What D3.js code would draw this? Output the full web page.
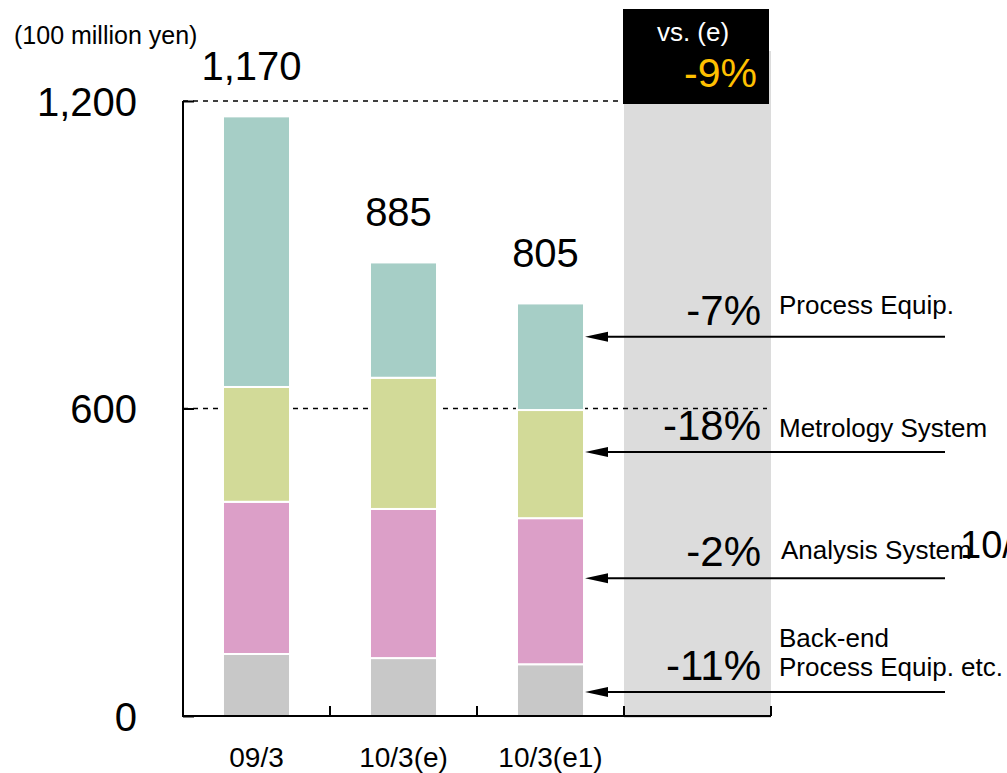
<!DOCTYPE html>
<html>
<head>
<meta charset="utf-8">
<script src="https://cdn.jsdelivr.net/npm/d3@7"></script>
<style>
  body { margin: 0; background: #fff; }
  svg { font-family: "Liberation Sans", Arial, sans-serif; }
</style>
</head>
<body>
<svg width="1007" height="773"></svg>
<script>
var categories = ["09/3", "10/3(e)", "10/3(e1)"];
var series = ["Back-end Process Equip. etc.", "Analysis System", "Metrology System", "Process Equip."];
var backEnd = [121, 113, 101];
var analysis = [297, 291, 285];
var metrology = [224, 256, 211];
var process = [528, 225, 208];
var totals = [1170, 885, 805];
var yTicks = [0, 600, 1200];
var changes = ["-11%", "-2%", "-18%", "-7%"];
var arrowAt = [47, 269, 515, 740];
var totalChange = "-9%";

var colors = ["#c8c8c8", "#dc9fc8", "#d2da98", "#a6cec6"];

var svg = d3.select("svg");

var x = d3.scaleBand().domain(categories.concat(["vs"])).range([183, 771]).padding(0),
    y = d3.scaleLinear().domain([0, 1200]).range([716, 101]);

var barW = x.bandwidth() * 0.456;

var rows = categories.map(function(c, i) {
  return { cat: c, back: backEnd[i], ana: analysis[i], met: metrology[i], pro: process[i] };
});
var stack = d3.stack().keys(["back", "ana", "met", "pro"])(rows);

// gray comparison column and black header
svg.append("rect")
   .attr("x", x("vs")).attr("y", 51)
   .attr("width", x.bandwidth()).attr("height", 667)
   .style("fill", "#dcdcdc");

svg.append("rect")
   .attr("x", x("vs") - 1).attr("y", 9)
   .attr("width", x.bandwidth() - 1).attr("height", 95)
   .style("fill", "#000");

svg.append("text")
   .attr("x", x("vs") + 69).attr("y", 41)
   .attr("text-anchor", "middle")
   .attr("font-size", "26px")
   .style("fill", "#fff")
   .text("vs. (e)");

svg.append("text")
   .attr("x", x("vs") + 133).attr("y", 87)
   .attr("text-anchor", "end")
   .attr("font-size", "41px")
   .style("fill", "#ffc000")
   .text(totalChange);

// dashed gridlines
svg.selectAll(".grid")
   .data(yTicks.filter(function(d) { return d > 0; }))
   .enter().append("line")
   .attr("x1", 183).attr("x2", 767)
   .attr("y1", function(d) { return y(d); })
   .attr("y2", function(d) { return y(d); })
   .style("stroke", "#000")
   .style("stroke-width", 1.5)
   .style("stroke-dasharray", "5,5");

// stacked bars
svg.selectAll(".layer")
   .data(stack)
   .enter().append("g")
   .style("fill", function(d, i) { return colors[i]; })
   .selectAll("rect")
   .data(function(d) { return d; })
   .enter().append("rect")
   .attr("x", function(d) { return x(d.data.cat) + (x.bandwidth() - barW) / 2; })
   .attr("y", function(d) { return y(d[1]); })
   .attr("width", barW)
   .attr("height", function(d) { return y(d[0]) - y(d[1]); })
   .style("stroke", "#fff")
   .style("stroke-width", 2);

// totals
svg.selectAll(".total")
   .data(categories)
   .enter().append("text")
   .attr("x", function(d) { return x(d) + x.bandwidth() / 2 - 5; })
   .attr("y", function(d, i) { return y(totals[i]) - 36; })
   .attr("text-anchor", "middle")
   .attr("font-size", "40px")
   .text(function(d, i) { return d3.format(",")(totals[i]); });

// y axis
var yAxis = svg.append("g")
   .attr("transform", "translate(183,0)")
   .call(d3.axisLeft(y).tickValues(yTicks).tickFormat(d3.format(",")).tickSize(-11).tickPadding(46));
yAxis.select(".domain").attr("d", "M0," + y(1200) + "V" + y(0)).style("stroke-width", 2);
yAxis.selectAll(".tick line").style("stroke-width", 2);
yAxis.selectAll(".tick text")
   .attr("font-size", "40px")
   .attr("font-family", "Liberation Sans, Arial, sans-serif")
   .attr("dy", "0.36em")
   .style("fill", "#000");

// x axis
svg.append("line")
   .attr("x1", 182).attr("x2", 771)
   .attr("y1", 716).attr("y2", 716)
   .style("stroke", "#000").style("stroke-width", 2);

svg.selectAll(".xtick")
   .data(x.domain().slice(1).concat(["end"]))
   .enter().append("line")
   .attr("x1", function(d) { return d === "end" ? 771 : x(d); })
   .attr("x2", function(d) { return d === "end" ? 771 : x(d); })
   .attr("y1", 716).attr("y2", 706)
   .style("stroke", "#000").style("stroke-width", 2);

svg.selectAll(".xlabel")
   .data(categories)
   .enter().append("text")
   .attr("x", function(d) { return x(d) + x.bandwidth() / 2; })
   .attr("y", 767)
   .attr("text-anchor", "middle")
   .attr("font-size", "28px")
   .text(function(d) { return d; });

svg.append("text")
   .attr("x", 14).attr("y", 44)
   .attr("font-size", "25px")
   .text("(100 million yen)");

// arrows and change labels
svg.selectAll(".arrow")
   .data(arrowAt)
   .enter().append("line")
   .attr("x1", 945).attr("x2", 600)
   .attr("y1", function(d) { return y(d); })
   .attr("y2", function(d) { return y(d); })
   .style("stroke", "#000").style("stroke-width", 2);

svg.selectAll(".head")
   .data(arrowAt)
   .enter().append("path")
   .attr("d", function(d) {
     var yy = y(d);
     return "M585," + yy + "L608," + (yy - 5) + "L608," + (yy + 5) + "Z";
   })
   .style("fill", "#000");

svg.selectAll(".change")
   .data(changes)
   .enter().append("text")
   .attr("x", 761)
   .attr("y", function(d, i) { return y(arrowAt[i]) - 12; })
   .attr("text-anchor", "end")
   .attr("font-size", "42px")
   .text(function(d) { return d; });

var nameLines = [["Back-end", "Process Equip. etc."], ["Analysis System"], ["Metrology System"], ["Process Equip."]];
var nameOffsets = [-45, -19, -15, -23];

svg.selectAll(".name")
   .data(nameLines)
   .enter().append("text")
   .attr("x", function(d, i) { return i === 1 ? 781 : 779; })
   .attr("y", function(d, i) { return y(arrowAt[i]) + nameOffsets[i]; })
   .attr("font-size", "26px")
   .selectAll("tspan")
   .data(function(d) { return d; })
   .enter().append("tspan")
   .attr("x", function() { return d3.select(this.parentNode).attr("x"); })
   .attr("dy", function(d, i) { return i === 0 ? 0 : 29; })
   .text(function(d) { return d; });

// partly hidden label at the right edge (cut off in the original too)
svg.append("text")
   .attr("x", 960).attr("y", 558)
   .attr("font-size", "38px")
   .text("10/3");
</script>
</body>
</html>
